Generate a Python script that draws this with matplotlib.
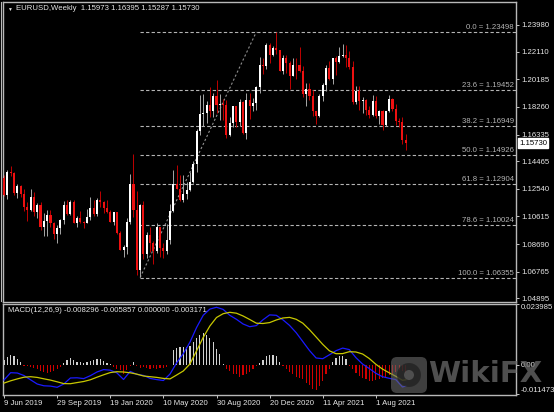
import matplotlib.pyplot as plt
import matplotlib.transforms as mtransforms
import numpy as np
from matplotlib.patches import FancyBboxPatch, Circle

plt.rcParams['font.family'] = ['Liberation Sans', 'DejaVu Sans']

# weekly EURUSD candles, 9 Jun 2019 .. 3 Oct 2021
opens = [1.1330, 1.1210, 1.1370, 1.1365, 1.1225, 1.1272, 1.1220, 1.1127, 1.1108, 1.1200,
         1.1090, 1.1143, 1.0990, 1.1027, 1.1073, 1.1017, 1.0940, 1.0978, 1.1040, 1.1143,
         1.1080, 1.1165, 1.1017, 1.1050, 1.1020, 1.1017, 1.1060, 1.1120, 1.1080, 1.1175,
         1.1165, 1.1120, 1.1090, 1.1025, 1.1093, 1.0945, 1.0830, 1.0845, 1.1025, 1.1285,
         1.1105, 1.0690, 1.1140, 1.0800, 1.0935, 1.0875, 1.0820, 1.0985, 1.0840, 1.0820,
         1.0900, 1.1100, 1.1290, 1.1255, 1.1175, 1.1220, 1.1245, 1.1300, 1.1430, 1.1655,
         1.1780, 1.1785, 1.1840, 1.1795, 1.1905, 1.1840, 1.1845, 1.1840, 1.1630, 1.1715,
         1.1830, 1.1720, 1.1860, 1.1645, 1.1875, 1.1830, 1.1855, 1.1965, 1.2120, 1.2110,
         1.2255, 1.2187, 1.2235, 1.2220, 1.2080, 1.2170, 1.2135, 1.2045, 1.2120, 1.2118,
         1.2075, 1.1915, 1.1950, 1.1905, 1.1795, 1.1760, 1.1900, 1.1980, 1.2095, 1.2020,
         1.2165, 1.2140, 1.2180, 1.2190, 1.2165, 1.2105, 1.1860, 1.1935, 1.1865, 1.1875,
         1.1805, 1.1770, 1.1870, 1.1760, 1.1795, 1.1700, 1.1795, 1.1880, 1.1815, 1.1725,
         1.1720, 1.15973]
highs = [1.1348, 1.1386, 1.1412, 1.1375, 1.1286, 1.1283, 1.1250, 1.1164, 1.1250, 1.1230,
         1.1153, 1.1165, 1.1085, 1.1110, 1.1110, 1.1025, 1.0999, 1.1045, 1.1172, 1.1179,
         1.1175, 1.1176, 1.1064, 1.1097, 1.1030, 1.1117, 1.1200, 1.1175, 1.1188, 1.1240,
         1.1170, 1.1173, 1.1110, 1.1095, 1.1095, 1.0960, 1.0865, 1.1053, 1.1355, 1.1495,
         1.1236, 1.1147, 1.1170, 1.0950, 1.0990, 1.0890, 1.1019, 1.0990, 1.0875, 1.1008,
         1.1146, 1.1384, 1.1422, 1.1350, 1.1349, 1.1303, 1.1370, 1.1452, 1.1670, 1.1909,
         1.1916, 1.1865, 1.1966, 1.1925, 1.2011, 1.1917, 1.1883, 1.1873, 1.1755, 1.1833,
         1.1836, 1.1880, 1.1870, 1.1920, 1.1920, 1.1890, 1.1970, 1.2177, 1.2167, 1.2273,
         1.2270, 1.2250, 1.2349, 1.2222, 1.2190, 1.2190, 1.2150, 1.2170, 1.2170, 1.2243,
         1.2110, 1.1990, 1.1990, 1.1945, 1.1800, 1.1915, 1.1995, 1.2117, 1.2150, 1.2167,
         1.2181, 1.2245, 1.2266, 1.2255, 1.2218, 1.2145, 1.1975, 1.1975, 1.1895, 1.1880,
         1.1830, 1.1909, 1.1900, 1.1805, 1.1805, 1.1800, 1.1910, 1.1885, 1.1850, 1.1750,
         1.1755, 1.16395]
lows = [1.1202, 1.1181, 1.1347, 1.1208, 1.1193, 1.1200, 1.1101, 1.1027, 1.1100, 1.1066,
        1.1050, 1.0964, 1.0926, 1.0927, 1.0990, 1.0905, 1.0879, 1.0940, 1.1010, 1.1074,
        1.1073, 1.1015, 1.0989, 1.1014, 1.0981, 1.1013, 1.1040, 1.1066, 1.1065, 1.1125,
        1.1085, 1.1085, 1.1020, 1.1000, 1.0940, 1.0827, 1.0777, 1.0800, 1.1010, 1.1055,
        1.0654, 1.0636, 1.0768, 1.0770, 1.0812, 1.0727, 1.0810, 1.0782, 1.0775, 1.0800,
        1.0870, 1.1095, 1.1250, 1.1168, 1.1160, 1.1185, 1.1240, 1.1295, 1.1375, 1.1630,
        1.1695, 1.1711, 1.1753, 1.1755, 1.1782, 1.1737, 1.1737, 1.1612, 1.1620, 1.1685,
        1.1689, 1.1690, 1.1640, 1.1603, 1.1745, 1.1800, 1.1803, 1.1923, 1.2058, 1.2090,
        1.2130, 1.2180, 1.2195, 1.2075, 1.2054, 1.2060, 1.1952, 1.2040, 1.2023, 1.2070,
        1.1895, 1.1835, 1.1875, 1.1760, 1.1704, 1.1755, 1.1870, 1.1940, 1.2015, 1.1985,
        1.2051, 1.2130, 1.2175, 1.2105, 1.2093, 1.1845, 1.1847, 1.1807, 1.1782, 1.1772,
        1.1752, 1.1760, 1.1750, 1.1705, 1.1665, 1.1690, 1.1790, 1.1800, 1.1700, 1.1685,
        1.1565, 1.15287]
closes = [1.1210, 1.1370, 1.1365, 1.1225, 1.1272, 1.1220, 1.1127, 1.1108, 1.1200, 1.1090,
          1.1143, 1.0990, 1.1027, 1.1073, 1.1017, 1.0940, 1.0978, 1.1040, 1.1143, 1.1080,
          1.1165, 1.1017, 1.1050, 1.1020, 1.1017, 1.1060, 1.1120, 1.1080, 1.1175, 1.1165,
          1.1120, 1.1090, 1.1025, 1.1093, 1.0945, 1.0830, 1.0845, 1.1025, 1.1285, 1.1105,
          1.0690, 1.1140, 1.0800, 1.0935, 1.0875, 1.0820, 1.0985, 1.0840, 1.0820, 1.0900,
          1.1100, 1.1290, 1.1255, 1.1175, 1.1220, 1.1245, 1.1300, 1.1430, 1.1655, 1.1780,
          1.1785, 1.1840, 1.1795, 1.1905, 1.1840, 1.1845, 1.1840, 1.1630, 1.1715, 1.1830,
          1.1720, 1.1860, 1.1645, 1.1875, 1.1830, 1.1855, 1.1965, 1.2120, 1.2110, 1.2255,
          1.2187, 1.2235, 1.2220, 1.2080, 1.2170, 1.2135, 1.2045, 1.2120, 1.2118, 1.2075,
          1.1915, 1.1950, 1.1905, 1.1795, 1.1760, 1.1900, 1.1980, 1.2095, 1.2020, 1.2165,
          1.2140, 1.2180, 1.2190, 1.2165, 1.2105, 1.1860, 1.1935, 1.1865, 1.1875, 1.1805,
          1.1770, 1.1870, 1.1760, 1.1795, 1.1700, 1.1795, 1.1880, 1.1815, 1.1725, 1.1720,
          1.1595, 1.15730]

date_ticks = [0, 16, 32, 48, 64, 80, 96, 112]
date_labels = ['9 Jun 2019', '29 Sep 2019', '19 Jan 2020', '10 May 2020',
               '30 Aug 2020', '20 Dec 2020', '11 Apr 2021', '1 Aug 2021']
price_ticks = [1.23980, 1.22110, 1.20185, 1.18260, 1.16335, 1.14465,
               1.12540, 1.10615, 1.08690, 1.06765, 1.04895]

fib_levels = [0.0, 23.6, 38.2, 50.0, 61.8, 78.6, 100.0]
fib_prices = [1.23498, 1.19452, 1.16949, 1.14926, 1.12904, 1.10024, 1.06355]
fib_start = 41
fib_end = 76

# MACD lines read every second bar
macd_idx = list(range(0, 121, 2)) + [121]
macd_main = [-0.00595, -0.00307, -0.00319, -0.00418, -0.00587, -0.00753, -0.00823, -0.00835, -0.00883, -0.00753,
             -0.00516, -0.00508, -0.00540, -0.00426, -0.00280, -0.00185, -0.00209, -0.00315, -0.00575, -0.00256,
             -0.00374, -0.00414, -0.00532, -0.00579, -0.00615, -0.00359, 0.00083, 0.00441, 0.00894, 0.01474,
             0.01954, 0.02199, 0.02270, 0.02187, 0.01954, 0.01797, 0.01612, 0.01505, 0.01548, 0.01777,
             0.01970, 0.01954, 0.01777, 0.01556, 0.01269, 0.00918, 0.00567, 0.00272, 0.00244, 0.00398,
             0.00560, 0.00662, 0.00603, 0.00284, 0.00032, -0.00142, -0.00331, -0.00465, -0.00528, -0.00579,
             -0.00871, -0.00830]
macd_signal = [-0.00717, -0.00627, -0.00552, -0.00485, -0.00465, -0.00493, -0.00548, -0.00599, -0.00666, -0.00737,
               -0.00741, -0.00697, -0.00654, -0.00587, -0.00485, -0.00390, -0.00303, -0.00268, -0.00280, -0.00311,
               -0.00363, -0.00437, -0.00465, -0.00492, -0.00532, -0.00552, -0.00398, -0.00240, 0.00035, 0.00555,
               0.01083, 0.01532, 0.01867, 0.02017, 0.02072, 0.02037, 0.01927, 0.01789, 0.01643, 0.01631,
               0.01667, 0.01769, 0.01848, 0.01872, 0.01797, 0.01643, 0.01387, 0.01099, 0.00808, 0.00555,
               0.00441, 0.00445, 0.00520, 0.00508, 0.00429, 0.00252, 0.00024, -0.00165, -0.00311, -0.00449,
               -0.00607, -0.00586]
macd_hist = [0.0020, 0.0032, 0.0040, 0.0034, 0.0024, 0.0012, -0.0003, -0.0005, -0.0008, -0.0012,
             -0.0018, -0.0024, -0.0028, -0.0030, -0.0028, -0.0025, -0.0018, -0.0010, 0.0008, 0.0019,
             0.0027, 0.0019, 0.0011, 0.0011, 0.0008, 0.0011, 0.0015, 0.0019, 0.0024, 0.0023,
             0.0015, 0.0008, 0.0003, -0.0008, -0.0015, -0.0022, -0.0035, -0.0020, -0.0005, 0.0012,
             -0.0006, -0.0012, -0.0010, -0.0014, -0.0016, -0.0014, -0.0015, -0.0012, -0.0014, -0.0008,
             -0.0002, 0.0060, 0.0068, 0.0072, 0.0072, 0.0072, 0.0075, 0.0091, 0.0106, 0.0118,
             0.0124, 0.0118, 0.0106, 0.0089, 0.0063, 0.0041, 0.0005, -0.0018, -0.0024, -0.0037,
             -0.0037, -0.0049, -0.0041, -0.0037, -0.0028, -0.0018, -0.0004, 0.0008, 0.0021, 0.0034,
             0.0039, 0.0039, 0.0034, 0.0013, -0.0005, -0.0018, -0.0028, -0.0037, -0.0046, -0.0050,
             -0.0057, -0.0072, -0.0080, -0.0093, -0.0098, -0.0085, -0.0063, -0.0037, -0.0018, 0.0013,
             0.0026, 0.0034, 0.0034, 0.0024, -0.0005, -0.0018, -0.0030, -0.0042, -0.0050, -0.0056,
             -0.0062, -0.0063, -0.0060, -0.0056, -0.0052, -0.0048, -0.0040, -0.0035, -0.0028, -0.0022,
             -0.0024, -0.0032]

W, H = 554, 412
fig = plt.figure(figsize=(W / 100, H / 100), dpi=100, facecolor='black')


def px_axes(left, top, right, bottom):
    return fig.add_axes([left / W, 1 - bottom / H, (right - left) / W, (bottom - top) / H])


ax = px_axes(3, 2, 516, 301.5)
ax2 = px_axes(3, 303.5, 516, 395)

txt = '#e6e6e6'
grey = '#b4b4b4'
fs = 5.6
for a in (ax, ax2):
    a.set_facecolor('black')
    for s in a.spines.values():
        s.set_color('#b8b8b8')
        s.set_linewidth(1.0)
    a.yaxis.tick_right()
    a.tick_params(axis='y', colors=txt, labelsize=fs, length=2, width=0.6, pad=1.5)
    a.tick_params(axis='x', colors=txt, labelsize=fs, length=2, width=0.6, pad=1.5)
    a.set_xlim(-0.3, 154.2)

o = np.array(opens)
h = np.array(highs)
l = np.array(lows)
c = np.array(closes)
xs = np.arange(len(c))
bull = c >= o

# candles
ax.vlines(xs[bull], l[bull], h[bull], color='#a8a8a8', lw=0.7, zorder=2)
ax.vlines(xs[~bull], l[~bull], h[~bull], color='#c00000', lw=0.7, zorder=2)
body_lo = np.minimum(o, c)
body_h = np.maximum(np.abs(c - o), 0.0003)
ax.bar(xs[bull], body_h[bull], bottom=body_lo[bull], width=0.62, color='white', lw=0, zorder=3)
ax.bar(xs[~bull], body_h[~bull], bottom=body_lo[~bull], width=0.62, color='#ee1111', lw=0, zorder=3)

# fibonacci
ax.hlines(fib_prices, fib_start, 154.2, colors=grey, linestyles=(0, (3, 2)), lw=0.8, zorder=1)
ax.plot([fib_start, fib_end], [fib_prices[-1], fib_prices[0]], color='#909090',
        ls=(0, (2, 2)), lw=0.8, zorder=1)
blend = mtransforms.blended_transform_factory(ax.transAxes, ax.transData)
for lvl, p in zip(fib_levels, fib_prices):
    ax.text(0.996, p + 0.0004, f'{lvl:.1f} = {p:.5f}', transform=blend, ha='right', va='bottom',
            fontsize=fs, color=grey)

ax.set_ylim(1.04680, 1.25585)
ax.set_yticks(price_ticks)
ax.set_yticklabels([f'{p:.5f}' for p in price_ticks])
ax.set_xticks([])
ax.text(1.0 + 3 / 513, closes[-1], f'{closes[-1]:.5f}', transform=blend, ha='left', va='center',
        fontsize=fs, color='black', clip_on=False,
        bbox=dict(boxstyle='square,pad=0.18', fc='white', ec='white'))

fig.text(7 / W, 1 - 9 / H, '▼', fontsize=3.5, color=txt, va='center')
fig.text(16 / W, 1 - 9 / H, 'EURUSD,Weekly  1.15973 1.16395 1.15287 1.15730', fontsize=fs,
         color=txt, va='center')

# MACD
hist_colors = ['#d0d0d0' if v >= 0 else '#d00000' for v in macd_hist]
ax2.bar(xs, macd_hist, width=0.36, color=hist_colors, lw=0, zorder=2)
ax2.plot(macd_idx, macd_main, color='#1a1aff', lw=0.9, zorder=3)
ax2.plot(macd_idx, macd_signal, color='#c8c800', lw=0.9, zorder=3)
ax2.set_ylim(-0.01186, 0.02419)
ax2.set_yticks([0.023985, 0.0, -0.011473])
ax2.set_yticklabels(['0.023985', '0.00', '-0.011473'])
ylabs = ax2.get_yticklabels()
ylabs[0].set_va('top')
ylabs[2].set_va('bottom')
ax2.set_xticks(date_ticks)
ax2.set_xticklabels(date_labels)
for lb in ax2.get_xticklabels():
    lb.set_ha('left')
fig.text(8 / W, 1 - 311 / H, 'MACD(12,26,9) -0.008296 -0.005857 0.000000 -0.003171', fontsize=fs,
         color=txt, va='center')

# overlay in pixel coords: outer border + watermark
ov = fig.add_axes([0, 0, 1, 1], zorder=10)
ov.set_xlim(0, W)
ov.set_ylim(H, 0)
ov.axis('off')
ov.patch.set_alpha(0)
ov.plot([1, 1], [2, 301], color='#b8b8b8', lw=0.8)
ov.add_patch(FancyBboxPatch((391, 357), 36, 36, boxstyle='round,pad=0,rounding_size=6',
                            fc='#6a6a6a', ec='none', alpha=0.6))
ov.add_patch(Circle((409, 375), 12, fc='#1e1e1e', ec='none', alpha=0.7))
ov.add_patch(Circle((409, 375), 5, fc='#6a6a6a', ec='none', alpha=0.6))
ov.text(428, 374, 'WikiFX', fontsize=21, fontweight='bold', family='DejaVu Sans',
        color='#6a6a6a', alpha=0.75, va='center', ha='left')

fig.savefig('out.png', dpi=100, facecolor='black')
